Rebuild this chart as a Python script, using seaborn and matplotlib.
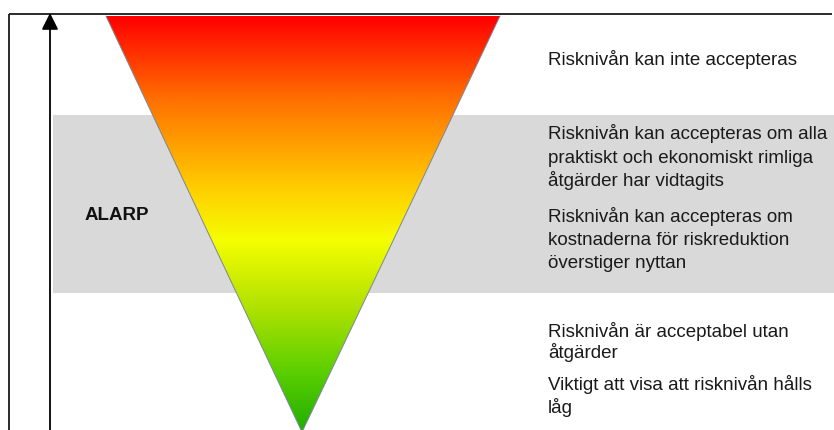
import numpy as np
import pandas as pd
import matplotlib
matplotlib.use("Agg")
import matplotlib.pyplot as plt
from matplotlib.colors import LinearSegmentedColormap
from matplotlib.patches import Polygon, Rectangle
import seaborn as sns

# ---- data (diagram in pixel units, y grows downward) ----
zone_names = ["Oacceptabel", "ALARP", "Acceptabel"]
zone_top = [16, 115, 293]
zone_bottom = [115, 293, 432]
zone_colors = ["#ffffff", "#d9d9d9", "#ffffff"]

tri_x = [106, 500, 302]
tri_y = [16, 16, 432]

grad_pos = [0.0, 0.20, 0.41, 0.54, 0.69, 0.855, 1.0]
grad_colors = ["#ff0000", "#ff7000", "#ffcc00", "#f5ff00", "#b5e300", "#5ccf00", "#1fae00"]

text_lines = [
    "Risknivån kan inte accepteras",
    "Risknivån kan accepteras om alla",
    "praktiskt och ekonomiskt rimliga",
    "åtgärder har vidtagits",
    "Risknivån kan accepteras om",
    "kostnaderna för riskreduktion",
    "överstiger nyttan",
    "Risknivån är acceptabel utan",
    "åtgärder",
    "Viktigt att visa att risknivån hålls",
    "låg",
]
text_baselines = [65, 139, 163, 186, 222, 245, 268, 337, 358, 390, 413]
text_x = 548

alarp_label = "ALARP"
alarp_pos = (85, 220)

# ---- drawing ----
sns.set_theme(style="white")
plt.rcParams["font.family"] = ["Liberation Sans", "DejaVu Sans"]

fig = plt.figure(figsize=(8.34, 4.30), dpi=100)
ax = fig.add_axes([0, 0, 1, 1])

# ALARP grey band
i = zone_names.index("ALARP")
ax.add_patch(Rectangle((53, zone_top[i]), 834 - 53, zone_bottom[i] - zone_top[i],
                       facecolor=zone_colors[i], edgecolor="none", zorder=1))

# gradient triangle
cmap = LinearSegmentedColormap.from_list("risk", list(zip(grad_pos, grad_colors)))
grad = np.linspace(0, 1, 512).reshape(-1, 1)
im = ax.imshow(grad, cmap=cmap, aspect="auto",
               extent=[min(tri_x), max(tri_x), max(tri_y), min(tri_y)], zorder=2,
               interpolation="bilinear")
poly = Polygon(list(zip(tri_x, tri_y)), closed=True, facecolor="none",
               edgecolor="none")
ax.add_patch(poly)
im.set_clip_path(poly)

outline = pd.DataFrame({"x": [tri_x[0], tri_x[2], tri_x[1]],
                        "y": [tri_y[0], tri_y[2], tri_y[1]]})
sns.lineplot(data=outline, x="x", y="y", sort=False, ax=ax, color="#7a869c",
             lw=0.7, zorder=3, estimator=None)
ax.set_xlim(0, 834)
ax.set_ylim(430, 0)
ax.axis("off")

# frame lines
ax.plot([9, 9], [432, 13.5], color="#1a1a1a", lw=1.3, zorder=4, solid_capstyle="butt")
ax.plot([9, 832], [13.5, 13.5], color="#1a1a1a", lw=1.3, zorder=4, solid_capstyle="butt")

# vertical arrow
ax.annotate("", xy=(50, 13), xytext=(50, 432),
            arrowprops=dict(arrowstyle="-|>,head_length=0.4,head_width=0.2",
                            lw=1.3, color="black", mutation_scale=25,
                            shrinkA=0, shrinkB=0), zorder=5)

# texts
for line, yb in zip(text_lines, text_baselines):
    ax.text(text_x, yb, line, fontsize=13.5, color="#1a1a1a", va="baseline", ha="left",
            zorder=6)
ax.text(alarp_pos[0], alarp_pos[1], alarp_label, fontsize=13.5, fontweight="bold",
        color="#111111", va="baseline", ha="left", zorder=6)

fig.savefig("out.png", dpi=100)
